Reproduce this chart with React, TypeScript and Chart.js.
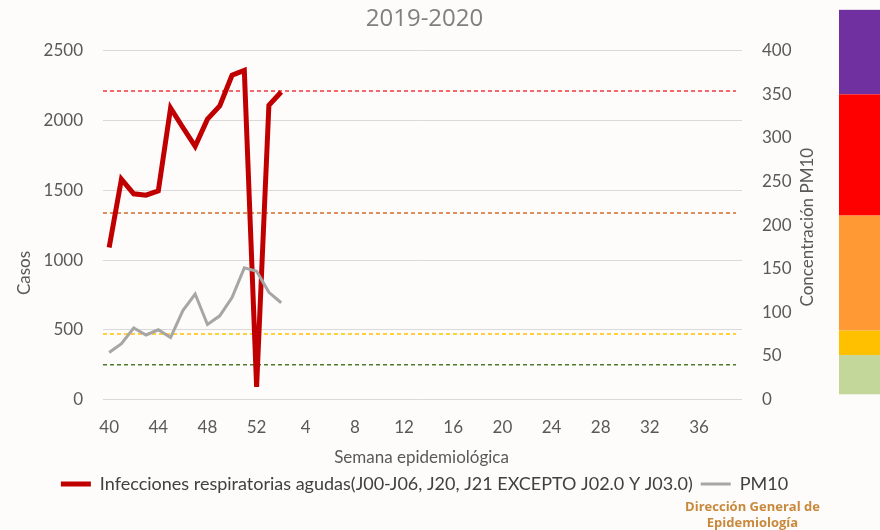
import React, { useEffect, useRef } from 'react';
import { Chart, registerables } from 'chart.js';

Chart.register(...registerables);

// ---- Data ----
const weeks: string[] = [
  '40', '41', '42', '43', '44', '45', '46', '47', '48', '49', '50', '51', '52',
  '1', '2', '3', '4', '5', '6', '7', '8', '9', '10', '11', '12', '13', '14', '15',
  '16', '17', '18', '19', '20', '21', '22', '23', '24', '25', '26', '27', '28', '29',
  '30', '31', '32', '33', '34', '35', '36', '37', '38', '39',
];
const casos: (number | null)[] = [1090, 1580, 1475, 1465, 1495, 2090, 1950, 1815, 2010, 2105, 2325, 2360, 90, 2110, 2205];
const pm10: (number | null)[] = [54, 64, 82, 74, 80, 71, 102, 121, 86, 96, 117, 151, 147, 123, 111];

const seriesLabels = [
  'Infecciones respiratorias agudas(J00-J06, J20, J21 EXCEPTO J02.0 Y J03.0)',
  'PM10',
];
const titleText = '2019-2020';
const xTitle = 'Semana epidemiológica';
const yTitle = 'Casos';
const y1Title = 'Concentración PM10';

// PM10 reference thresholds (dashed lines, right axis units)
const thresholds = [40, 75, 214, 354];
const thresholdColors = ['#4e7d2c', '#ffc000', '#d2692a', '#f0383c'];

// Colour scale bar on the right (right axis units)
const bandLimits = [447, 350, 211, 79, 51, 6];
const bandColors = ['#7030a0', '#ff0000', '#ff9933', '#ffc000', '#c4d79b'];

const FONT = 'Lato, "Open Sans", sans-serif';

const overlayPlugin = {
  id: 'overlay',
  beforeDatasetsDraw(chart: any) {
    const { ctx, chartArea } = chart;
    const y1 = chart.scales.y1;
    ctx.save();
    ctx.lineWidth = 1.5;
    ctx.setLineDash([4, 3]);
    thresholds.forEach((v, i) => {
      const y = y1.getPixelForValue(v);
      ctx.strokeStyle = thresholdColors[i];
      ctx.beginPath();
      ctx.moveTo(chartArea.left, y);
      ctx.lineTo(chartArea.right - 6, y);
      ctx.stroke();
    });
    ctx.restore();
  },
  afterDraw(chart: any) {
    const { ctx, chartArea } = chart;
    const y1 = chart.scales.y1;
    const x = chart.scales.x;
    ctx.save();
    // colour bar
    const barX = chart.width - 41;
    for (let i = 0; i < bandColors.length; i++) {
      const top = y1.getPixelForValue(bandLimits[i]);
      const bot = y1.getPixelForValue(bandLimits[i + 1]);
      ctx.fillStyle = bandColors[i];
      ctx.fillRect(barX, top, 41, bot - top);
    }
    // axis titles
    ctx.fillStyle = '#595959';
    ctx.font = `17px ${FONT}`;
    ctx.textAlign = 'center';
    ctx.textBaseline = 'middle';
    ctx.fillText(xTitle, (chartArea.left + chartArea.right) / 2 - 1, x.bottom - 9);
    ctx.save();
    ctx.translate(25, 273);
    ctx.rotate(-Math.PI / 2);
    ctx.fillText(yTitle, 0, 0);
    ctx.restore();
    ctx.save();
    ctx.translate(808, (chartArea.top + chartArea.bottom) / 2 + 2);
    ctx.rotate(-Math.PI / 2);
    ctx.fillText(y1Title, 0, 0);
    ctx.restore();
    ctx.restore();
  },
};

export default function App() {
  const ref = useRef<HTMLCanvasElement | null>(null);

  useEffect(() => {
    document.body.style.margin = '0';
    document.body.style.background = '#fdfcfa';
    const canvas = ref.current;
    if (!canvas) return;
    const chart = new Chart(canvas, {
      type: 'line',
      data: {
        labels: weeks,
        datasets: [
          {
            label: seriesLabels[0],
            data: casos,
            borderColor: '#c00000',
            backgroundColor: '#c00000',
            borderWidth: 5,
            pointRadius: 0,
            tension: 0,
            yAxisID: 'y',
            order: 1,
          },
          {
            label: seriesLabels[1],
            data: pm10,
            borderColor: '#a6a6a6',
            backgroundColor: '#a6a6a6',
            borderWidth: 3,
            pointRadius: 0,
            tension: 0,
            yAxisID: 'y1',
            order: 0,
          },
        ],
      },
      options: {
        animation: false,
        responsive: false,
        devicePixelRatio: 1,
        layout: { padding: { left: 10, right: 41, top: 0, bottom: 27 } },
        plugins: {
          title: {
            display: true,
            text: titleText,
            color: '#808080',
            font: { family: '"Open Sans", sans-serif', size: 24, weight: '400' },
            padding: { top: 5, bottom: 17 },
          },
          legend: {
            position: 'bottom',
            labels: {
              usePointStyle: true,
              pointStyle: 'line',
              pointStyleWidth: 30,
              color: '#404040',
              font: { family: FONT, size: 18 },
              padding: 8,
              sort: (a: any, b: any) => a.datasetIndex - b.datasetIndex,
            },
          },
          tooltip: { enabled: false },
        },
        scales: {
          x: {
            offset: true,
            grid: { display: false, drawTicks: false },
            border: { display: false },
            ticks: {
              autoSkip: false,
              maxRotation: 0,
              padding: 18,
              color: '#595959',
              font: { family: FONT, size: 17 },
              callback: (_v: any, i: number) => (i % 4 === 0 ? weeks[i] : ''),
            },
            afterFit: (s: any) => { s.height = 67.5; },
          },
          y: {
            position: 'left',
            min: 0,
            max: 2500,
            grid: { color: '#d9d9d9', lineWidth: 1, drawTicks: false },
            border: { display: false },
            ticks: {
              stepSize: 500,
              padding: 20,
              color: '#595959',
              font: { family: FONT, size: 17 },
              callback: (v: any) => String(v),
            },
            afterFit: (s: any) => { s.width = 93; },
          },
          y1: {
            position: 'right',
            min: 0,
            max: 400,
            grid: { drawOnChartArea: false, drawTicks: false },
            border: { display: false },
            ticks: {
              stepSize: 50,
              padding: 20,
              color: '#595959',
              font: { family: FONT, size: 17 },
              callback: (v: any) => String(v),
            },
            afterFit: (s: any) => { s.width = 97; },
          },
        },
      },
      plugins: [overlayPlugin],
    });
    return () => chart.destroy();
  }, []);

  return (
    <div style={{ position: 'absolute', left: 0, top: 0, width: 880, height: 530 }}>
      <canvas ref={ref} width={880} height={530} style={{ width: 880, height: 530, display: 'block' }} />
      <div
        style={{
          position: 'absolute',
          left: 660,
          top: 498,
          width: 185,
          textAlign: 'center',
          color: '#c8893c',
          fontFamily: '"Open Sans", sans-serif',
          fontWeight: 700,
          fontSize: 13,
          lineHeight: '16px',
        }}
      >
        Dirección General de
        <br />
        Epidemiología
      </div>
    </div>
  );
}
